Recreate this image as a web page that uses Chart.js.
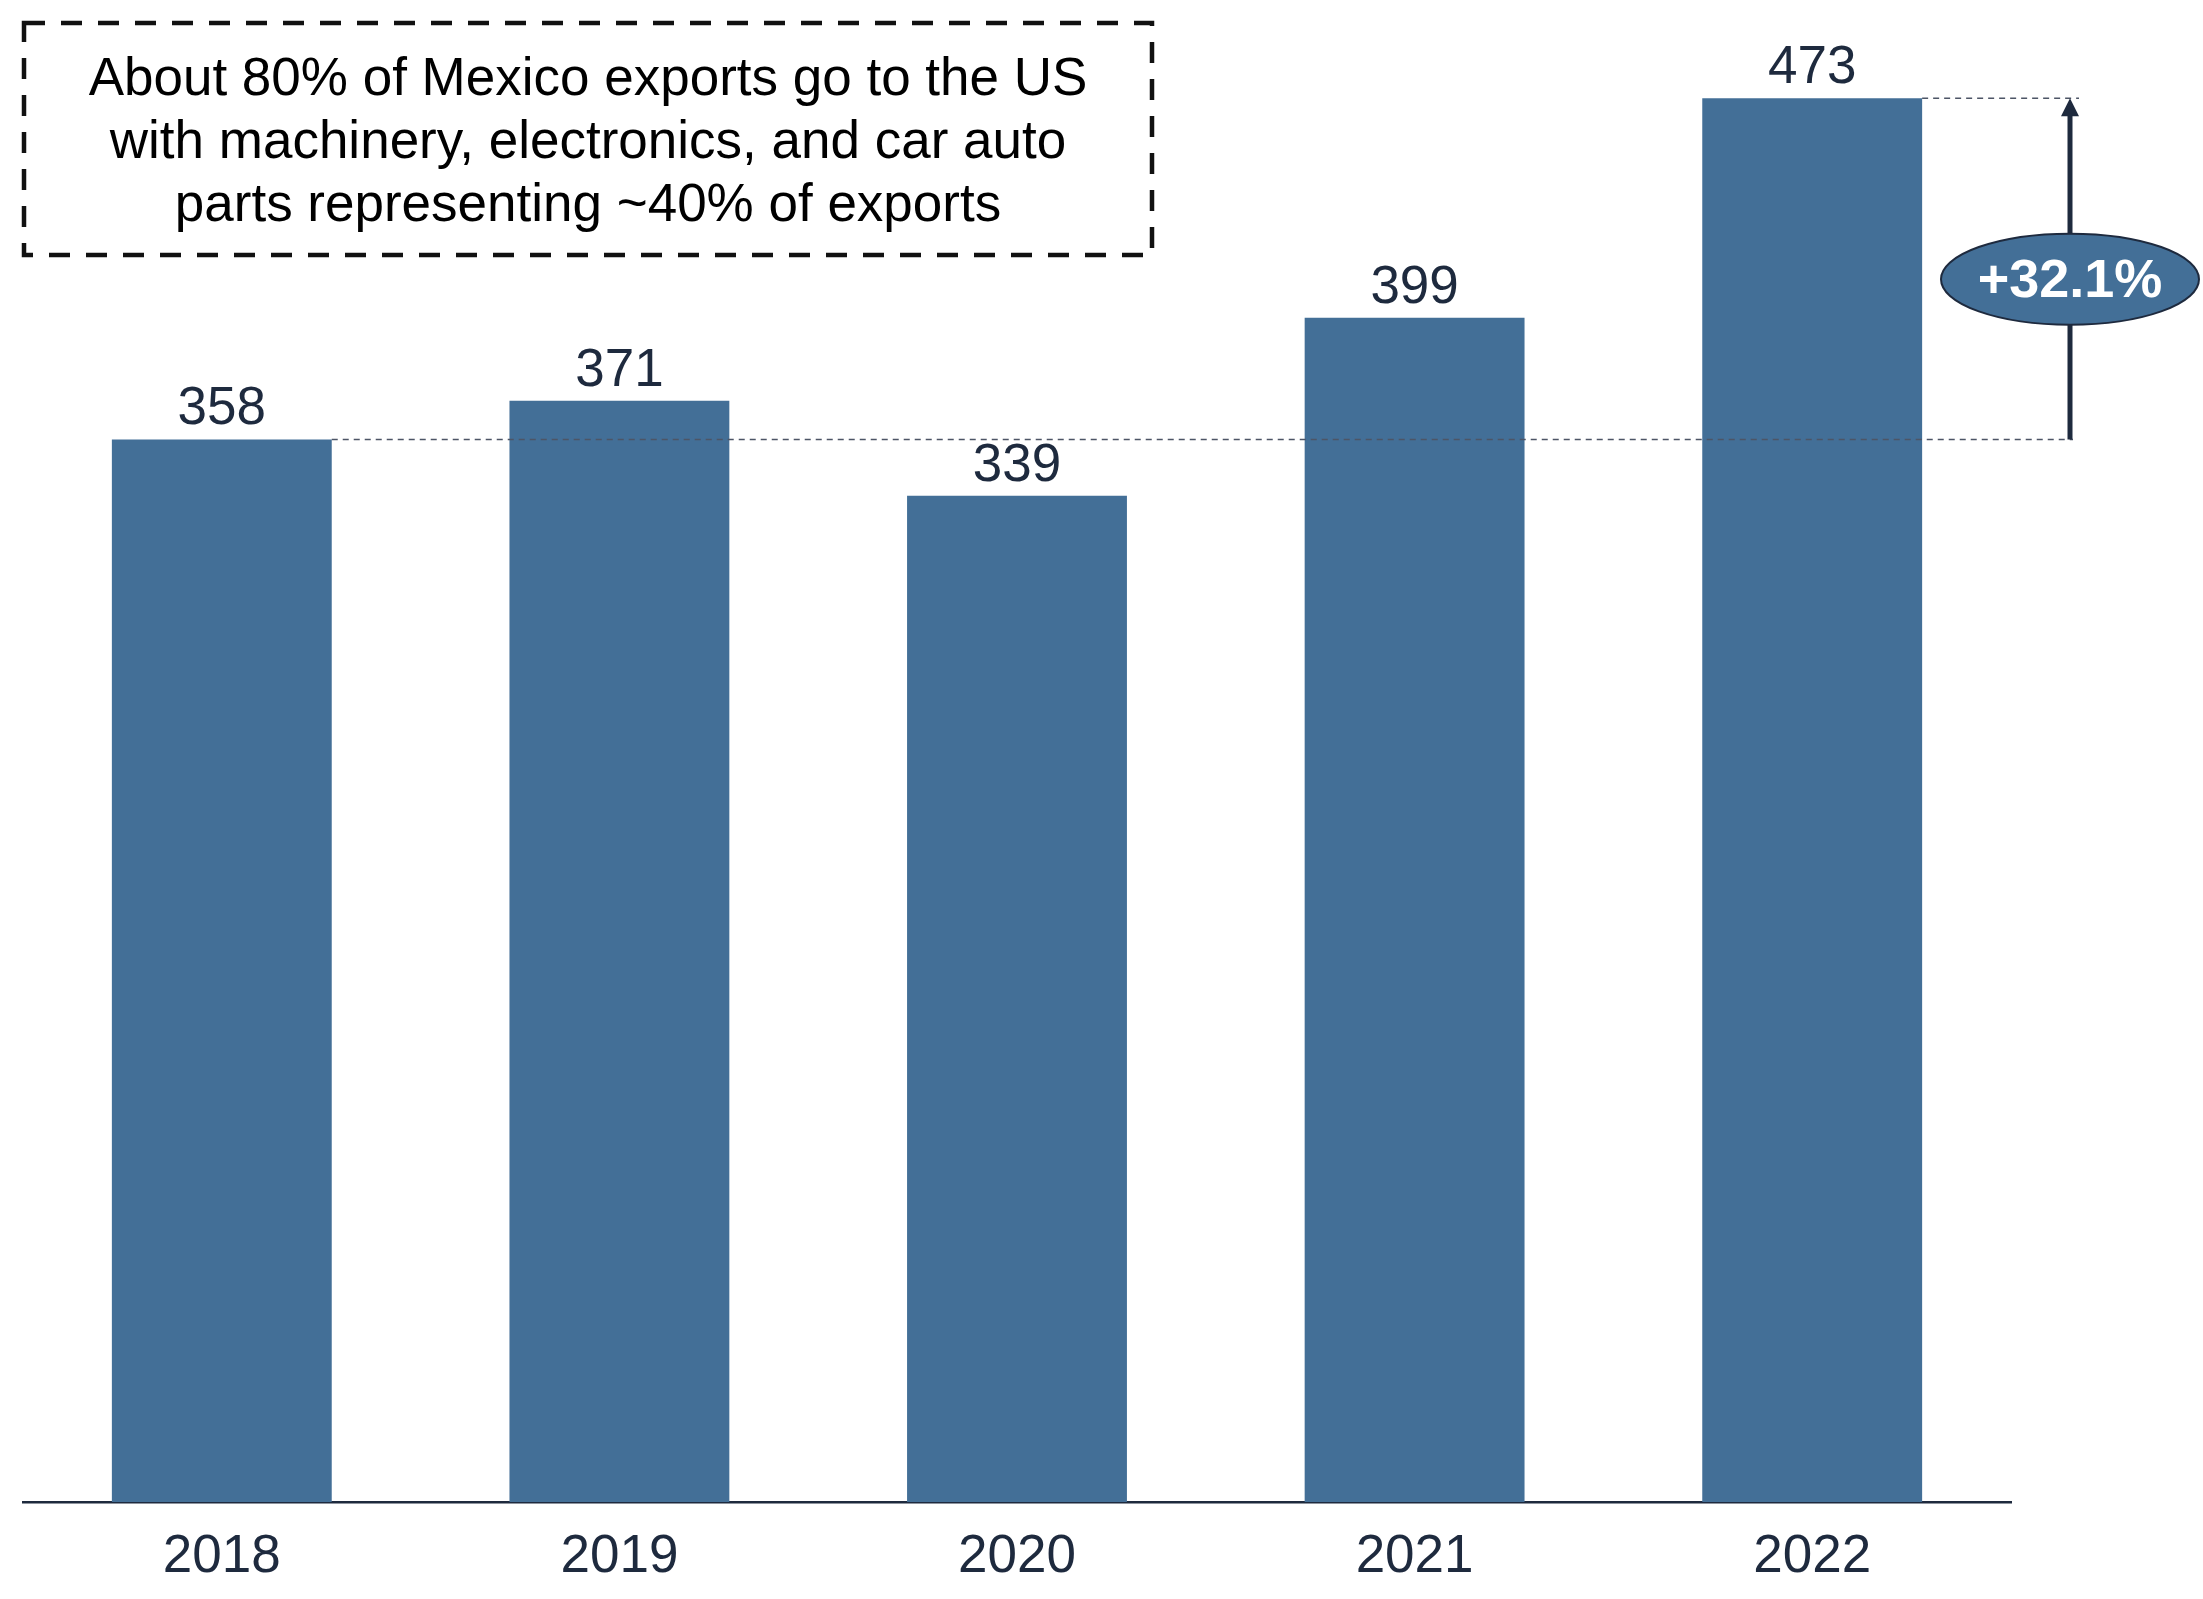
<!DOCTYPE html>
<html>
<head>
<meta charset="utf-8">
<script src="https://cdn.jsdelivr.net/npm/chart.js@4"></script>
<style>
  html, body { margin: 0; padding: 0; background: #fff; }
  #wrap { width: 2203px; height: 1599px; }
</style>
</head>
<body>
<div id="wrap"><canvas id="grafico" width="2203" height="1599"></canvas></div>
<script>
const anos = ["2018", "2019", "2020", "2021", "2022"];
const exportacoes = [358, 371, 339, 399, 473];
const notaLinhas = [
  "About 80% of Mexico exports go to the US",
  "with machinery, electronics, and car auto",
  "parts representing ~40% of exports"
];

const corBarra = "#436f97";
const corTexto = "#1e2a3e";
const fonte = "'Liberation Sans', Arial, sans-serif";

// crescimento entre o primeiro e o ultimo ano
const crescimento = (exportacoes[exportacoes.length - 1] / exportacoes[0] - 1) * 100;

const anotacoes = {
  id: "anotacoes",
  afterDatasetsDraw(chart) {
    const ctx = chart.ctx;
    const meta = chart.getDatasetMeta(0);
    const y = chart.scales.y;
    const primeiro = meta.data[0];
    const ultimo = meta.data[meta.data.length - 1];
    const xSeta = chart.chartArea.right + 59;

    ctx.save();
    // linhas tracejadas de referencia
    ctx.strokeStyle = "#4d5566";
    ctx.lineWidth = 1.5;
    ctx.setLineDash([6, 5]);
    ctx.beginPath();
    ctx.moveTo(primeiro.x + primeiro.width / 2, primeiro.y);
    ctx.lineTo(xSeta + 3, primeiro.y);
    ctx.moveTo(ultimo.x + ultimo.width / 2, ultimo.y);
    ctx.lineTo(xSeta + 9, ultimo.y);
    ctx.stroke();
    ctx.setLineDash([]);

    // seta
    ctx.strokeStyle = corTexto;
    ctx.fillStyle = corTexto;
    ctx.lineWidth = 5;
    ctx.beginPath();
    ctx.moveTo(xSeta, primeiro.y);
    ctx.lineTo(xSeta, ultimo.y + 16);
    ctx.stroke();
    ctx.beginPath();
    ctx.moveTo(xSeta, ultimo.y);
    ctx.lineTo(xSeta - 9, ultimo.y + 18);
    ctx.lineTo(xSeta + 9, ultimo.y + 18);
    ctx.closePath();
    ctx.fill();

    // elipse com percentual
    const yElipse = y.getPixelForValue(412);
    ctx.beginPath();
    ctx.ellipse(xSeta, yElipse, 129, 45.5, 0, 0, Math.PI * 2);
    ctx.fillStyle = corBarra;
    ctx.fill();
    ctx.lineWidth = 2;
    ctx.strokeStyle = corTexto;
    ctx.stroke();
    ctx.fillStyle = "#fff";
    ctx.font = "bold 54px " + fonte;
    ctx.textAlign = "center";
    ctx.textBaseline = "middle";
    ctx.fillText("+" + crescimento.toFixed(1) + "%", xSeta, yElipse + 3);

    // valores em cima das barras
    ctx.fillStyle = corTexto;
    ctx.font = "53px " + fonte;
    ctx.textBaseline = "alphabetic";
    meta.data.forEach((barra, i) => {
      ctx.fillText(String(exportacoes[i]), barra.x, barra.y - 15);
    });
    ctx.restore();
  },
  afterDraw(chart) {
    const ctx = chart.ctx;
    ctx.save();
    // caixa tracejada com a nota
    ctx.strokeStyle = "#111";
    ctx.lineWidth = 4.5;
    ctx.setLineDash([21, 16]);
    ctx.strokeRect(24, 23, 1128, 232);
    ctx.setLineDash([]);
    ctx.fillStyle = "#000";
    ctx.font = "53px " + fonte;
    ctx.textAlign = "center";
    ctx.textBaseline = "alphabetic";
    notaLinhas.forEach((linha, i) => {
      ctx.fillText(linha, 588, 95 + i * 63);
    });
    ctx.restore();
  }
};

new Chart(document.getElementById("grafico"), {
  type: "bar",
  data: {
    labels: anos,
    datasets: [{
      label: "Exports",
      data: exportacoes,
      backgroundColor: corBarra,
      borderWidth: 0,
      categoryPercentage: 1,
      barPercentage: 0.553
    }]
  },
  options: {
    responsive: false,
    animation: false,
    devicePixelRatio: 1,
    layout: { padding: { left: 23, right: 192, top: 18, bottom: 0 } },
    plugins: { legend: { display: false }, tooltip: { enabled: false } },
    scales: {
      x: {
        grid: { display: false },
        border: { display: true, color: corTexto, width: 2.5 },
        ticks: { color: corTexto, font: { family: fonte, size: 53 }, padding: 16 },
        afterFit(escala) { escala.height = 97; }
      },
      y: { display: false, min: 0, max: 500 }
    }
  },
  plugins: [anotacoes]
});
</script>
</body>
</html>
